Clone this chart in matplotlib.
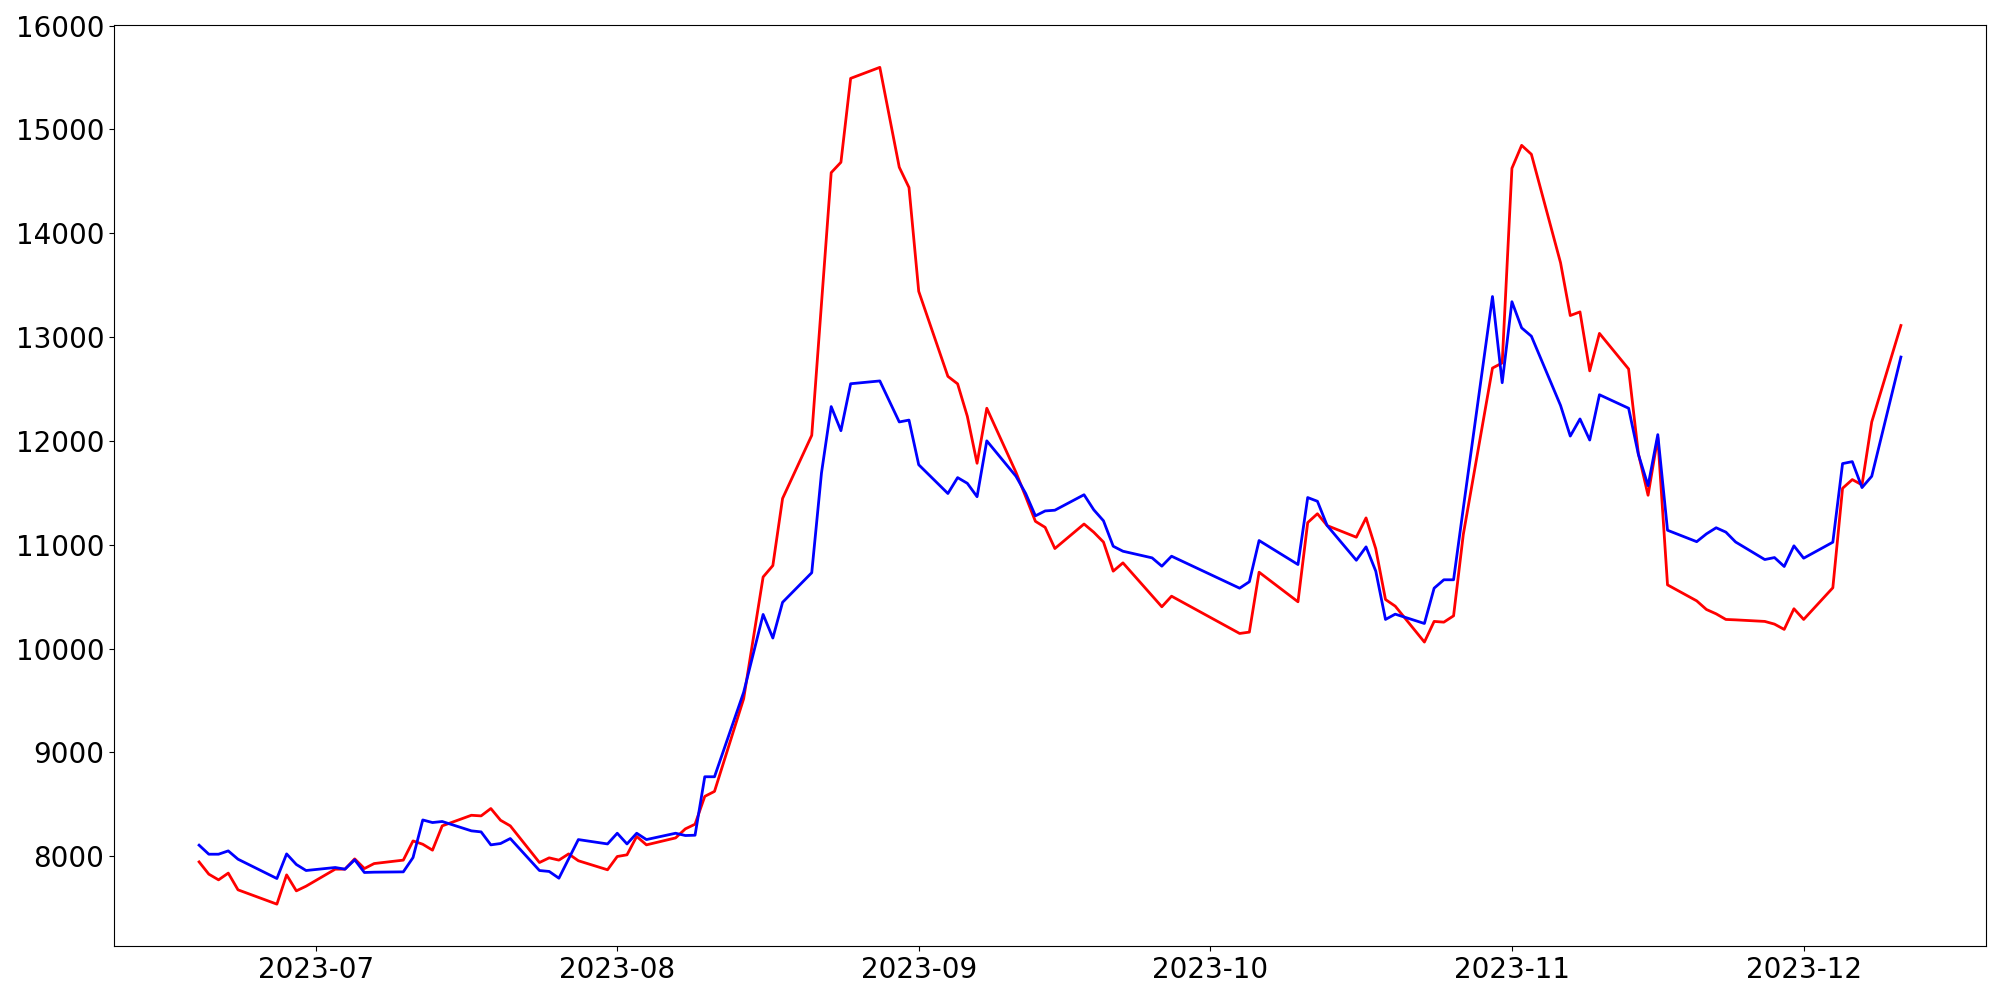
import pandas as pd
import matplotlib
matplotlib.use('Agg')
import matplotlib.pyplot as plt

# datas (dias úteis) e as duas séries
datas = ['2023-06-19', '2023-06-20', '2023-06-21', '2023-06-22', '2023-06-23',
         '2023-06-27', '2023-06-28', '2023-06-29', '2023-06-30',
         '2023-07-03', '2023-07-04', '2023-07-05', '2023-07-06', '2023-07-07',
         '2023-07-10', '2023-07-11', '2023-07-12', '2023-07-13', '2023-07-14',
         '2023-07-17', '2023-07-18', '2023-07-19', '2023-07-20', '2023-07-21',
         '2023-07-24', '2023-07-25', '2023-07-26', '2023-07-27', '2023-07-28',
         '2023-07-31', '2023-08-01', '2023-08-02', '2023-08-03', '2023-08-04',
         '2023-08-07', '2023-08-08', '2023-08-09', '2023-08-10', '2023-08-11',
         '2023-08-14', '2023-08-16', '2023-08-17', '2023-08-18',
         '2023-08-21', '2023-08-22', '2023-08-23', '2023-08-24', '2023-08-25',
         '2023-08-28', '2023-08-30', '2023-08-31', '2023-09-01',
         '2023-09-04', '2023-09-05', '2023-09-06', '2023-09-07', '2023-09-08',
         '2023-09-11', '2023-09-12', '2023-09-13', '2023-09-14', '2023-09-15',
         '2023-09-18', '2023-09-19', '2023-09-20', '2023-09-21', '2023-09-22',
         '2023-09-25', '2023-09-26', '2023-09-27',
         '2023-10-04', '2023-10-05', '2023-10-06',
         '2023-10-10', '2023-10-11', '2023-10-12', '2023-10-13',
         '2023-10-16', '2023-10-17', '2023-10-18', '2023-10-19', '2023-10-20',
         '2023-10-23', '2023-10-24', '2023-10-25', '2023-10-26', '2023-10-27',
         '2023-10-30', '2023-10-31', '2023-11-01', '2023-11-02', '2023-11-03',
         '2023-11-06', '2023-11-07', '2023-11-08', '2023-11-09', '2023-11-10',
         '2023-11-13', '2023-11-14', '2023-11-15', '2023-11-16', '2023-11-17',
         '2023-11-20', '2023-11-21', '2023-11-22', '2023-11-23', '2023-11-24',
         '2023-11-27', '2023-11-28', '2023-11-29', '2023-11-30', '2023-12-01',
         '2023-12-04', '2023-12-05', '2023-12-06', '2023-12-07', '2023-12-08',
         '2023-12-11']

vermelho = [7945, 7827, 7772, 7837, 7676,
            7538, 7820, 7666, 7711,
            7875, 7875, 7974, 7881, 7929,
            7962, 8147, 8115, 8058, 8292,
            8394, 8388, 8459, 8346, 8292,
            7939, 7984, 7962, 8022, 7956,
            7869, 7997, 8013, 8190, 8109,
            8176, 8263, 8308, 8576, 8624,
            9517, 10689, 10799, 11445,
            12053, 13320, 14583, 14683, 15491,
            15597, 14635, 14440, 13440,
            12621, 12549, 12236, 11784, 12314,
            11697, 11462, 11225, 11167, 10963,
            11199, 11120, 11025, 10745, 10825,
            10508, 10402, 10504,
            10145, 10158, 10735,
            10450, 11213, 11298, 11184,
            11072, 11258, 10960, 10472, 10408,
            10062, 10261, 10254, 10315, 11098,
            12701, 12750, 14625, 14846, 14760,
            13715, 13207, 13242, 12674, 13035,
            12692, 11878, 11476, 12032, 10613,
            10459, 10376, 10334, 10280, 10276,
            10261, 10235, 10184, 10383, 10280,
            10585, 11543, 11627, 11576, 12182,
            13111]

azul = [8106, 8019, 8019, 8051, 7971,
        7785, 8022, 7920, 7862,
        7891, 7875, 7965, 7843, 7846,
        7849, 7987, 8349, 8324, 8334,
        8244, 8234, 8109, 8122, 8170,
        7862, 7853, 7788, 7974, 8160,
        8118, 8221, 8118, 8221, 8160,
        8221, 8199, 8202, 8765, 8765,
        9579, 10328, 10101, 10445,
        10730, 11690, 12330, 12098, 12550,
        12577, 12182, 12200, 11770,
        11493, 11646, 11591, 11462, 12000,
        11659, 11493, 11278, 11325, 11332,
        11481, 11336, 11230, 10985, 10937,
        10873, 10793, 10889,
        10581, 10643, 11040,
        10809, 11454, 11418, 11184,
        10850, 10979, 10745, 10280, 10331,
        10241, 10581, 10662, 10662, 11351,
        13390, 12560, 13340, 13088, 13008,
        12341, 12046, 12211, 12008, 12444,
        12314, 11871, 11568, 12060, 11139,
        11029, 11104, 11163, 11121, 11026,
        10857, 10876, 10790, 10989, 10870,
        11024, 11781, 11800, 11550, 11659,
        12807]

df = pd.DataFrame({'vermelho': vermelho, 'azul': azul}, index=pd.to_datetime(datas))

plt.figure(figsize=(20, 10), dpi=100) #tamanho da figura
plt.plot(df.index, df['vermelho'], color='red', linewidth=2)
plt.plot(df.index, df['azul'], color='blue', linewidth=2)
plt.ylim(7135, 16005) #limite do eixo y (mostra o 16000 no topo)
plt.xticks(fontsize=20)
plt.yticks(fontsize=20)
plt.subplots_adjust(left=0.057, right=0.993, top=0.975, bottom=0.054) #ajustar layout
plt.savefig('out.png')
